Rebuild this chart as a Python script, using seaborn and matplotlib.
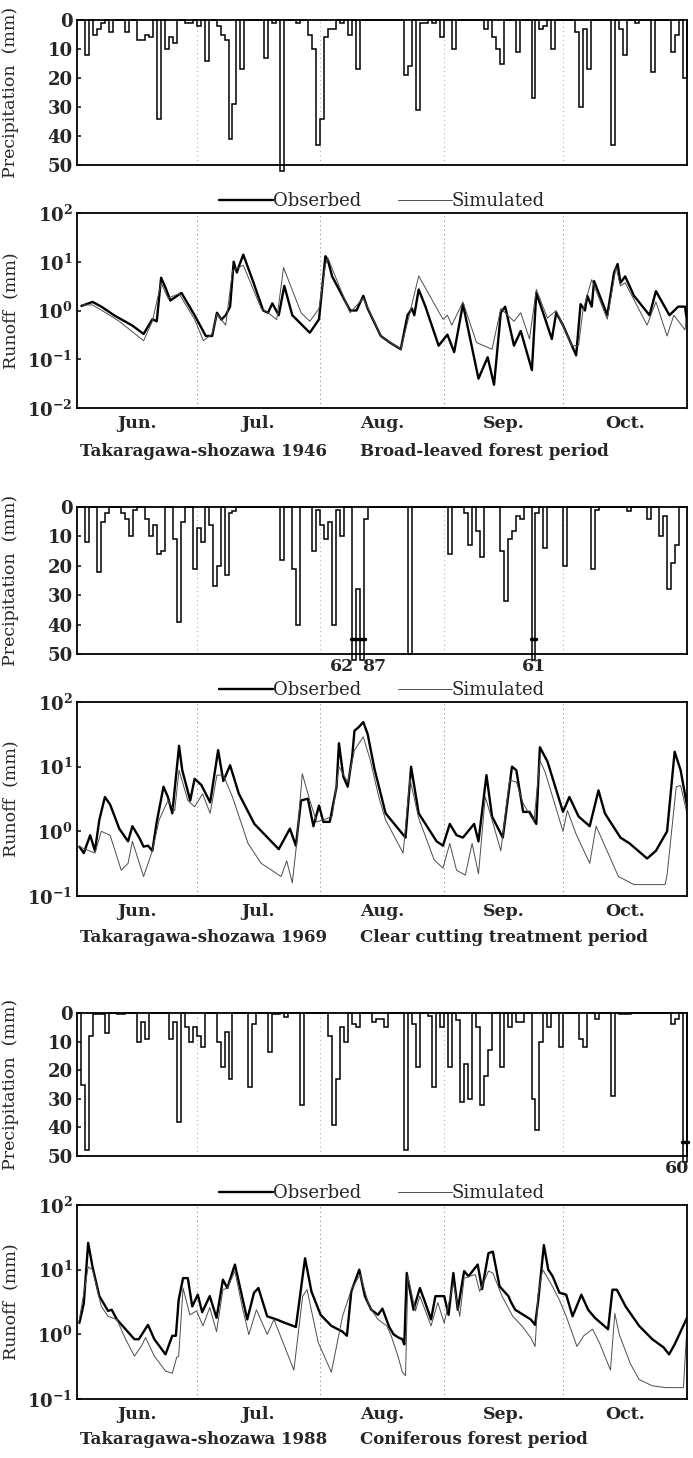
import numpy as np
import pandas as pd
import seaborn as sns
import matplotlib.pyplot as plt

# ---- axis categories ----
MONTHS = ['Jun.', 'Jul.', 'Aug.', 'Sep.', 'Oct.']
MONTH_START = [0, 30, 61, 92, 122, 153]   # day index, 1 Jun = 0
N_DAYS = 153

# ---- 1946 ----
rain46_day = [2, 4, 5, 6, 8, 12, 15, 16, 17, 18, 20, 22, 23, 24, 27, 28, 30, 32, 35, 36, 37, 38, 39, 41,
              47, 49, 51, 55, 58, 59, 60, 61, 62, 63, 64, 66, 68, 70, 82, 83, 85, 86, 87, 89, 91, 94,
              102, 104, 105, 106, 110, 114, 116, 117, 119, 125, 126, 127, 128, 134, 136, 137, 140,
              144, 149, 150, 152]
rain46_mm = [12, 5, 3, 1, 4, 4, 7, 7, 5, 6, 34, 10, 6, 8, 1, 1, 2, 14, 2, 5, 7, 41, 29, 17,
             13, 1, 53, 1, 5, 10, 43, 34, 6, 3, 3, 1, 5, 17, 19, 16, 31, 1, 1, 1, 6, 10,
             3, 6, 10, 15, 11, 27, 3, 2, 10, 4, 30, 3, 17, 43, 3, 12, 1,
             18, 11, 5, 20]
obs46_day = [1.1, 3.9, 6.1, 9.5, 13.9, 16.7, 18.9, 20.0, 21.1, 22.3, 23.4, 26.2, 29.5, 32.3, 33.9,
             35.1, 36.2, 37.3, 38.4, 39.3, 40.1, 40.6, 41.7, 44.0, 46.7, 47.9, 49.0, 50.6, 52.0, 54.0,
             58.4, 60.7, 62.3, 62.9, 64.0, 68.5, 70.1, 71.8, 72.9, 76.2, 78.5, 81.2, 82.9, 84.0, 84.6,
             85.7, 87.4, 90.7, 92.9, 94.6, 96.8, 100.7, 103.0, 104.6, 106.3, 107.4, 109.6, 111.3, 114.1,
             115.2, 116.9, 119.1, 120.2, 121.9, 125.2, 126.3, 127.4, 128.0, 129.1, 129.7, 133.0, 134.7,
             135.6, 136.3, 137.5, 139.7, 143.6, 145.2, 148.6, 150.8, 152.5, 153.0]
obs46_q = [1.24, 1.5, 1.2, 0.78, 0.49, 0.33, 0.66, 0.6, 4.7, 2.8, 1.6, 2.3, 0.8, 0.3, 0.3,
           0.9, 0.65, 0.8, 1.2, 10, 6, 8, 14, 4.3, 1.0, 0.9, 1.4, 0.8, 3.2, 0.8,
           0.35, 0.66, 13, 11, 5, 1.0, 1.0, 2.0, 1.1, 0.3, 0.22, 0.16, 0.8, 1.1, 0.8,
           2.7, 1.2, 0.19, 0.32, 0.14, 1.35, 0.04, 0.11, 0.03, 0.9, 1.2, 0.19, 0.38, 0.06,
           2.3, 0.9, 0.26, 0.9, 0.5, 0.12, 1.35, 1.0, 2.0, 1.2, 4.0, 0.8, 6.0,
           9.0, 3.7, 5.0, 2.0, 0.8, 2.5, 0.8, 1.2, 1.2, 0.6]
sim46_day = [1.1, 3.9, 7.2, 10.6, 16.7, 18.9, 21.1, 22.8, 25.6, 29.5, 31.7, 33.9, 35.1, 37.3, 39.0,
             41.7, 46.2, 47.9, 50.1, 51.8, 56.2, 58.4, 60.7, 62.3, 62.9, 68.5, 71.8, 76.2, 81.2, 83.5,
             85.7, 91.8, 92.9, 94.0, 96.8, 100.2, 104.1, 106.3, 109.6, 111.3, 113.5, 115.2, 118.0,
             120.2, 124.1, 125.8, 126.9, 129.1, 133.0, 135.2, 136.3, 137.5, 143.0, 145.2, 148.0,
             149.7, 152.5, 153.0]
sim46_q = [1.3, 1.3, 0.9, 0.6, 0.24, 0.6, 3.7, 1.8, 2.2, 0.66, 0.24, 0.33, 0.85, 0.5, 6.5,
           8.5, 1.1, 0.9, 0.65, 7.6, 0.9, 0.6, 1.1, 8.5, 12, 0.9, 1.8, 0.3, 0.16, 0.9,
           5.1, 0.66, 0.8, 0.5, 1.5, 0.22, 0.16, 1.1, 0.6, 0.9, 0.26, 2.7, 0.7,
           1.0, 0.19, 0.19, 1.0, 4.3, 0.66, 7.6, 3.2, 3.7, 0.5, 1.5, 0.3,
           0.8, 0.4, 0.95]

# ---- 1969 ----
rain69_day = [2, 5, 6, 7, 11, 12, 13, 14, 17, 18, 19, 20, 21, 24, 25, 26, 29, 30, 31, 33, 34, 35, 37,
              38, 39, 51, 54, 55, 59, 60, 61, 62, 63, 64, 65, 66, 69, 70, 71, 72, 83, 93, 97, 98,
              100, 101, 106, 107, 108, 109, 110, 111, 114, 115, 117, 122, 129, 130, 138, 143,
              146, 147, 148, 149, 150]
rain69_mm = [12, 22, 5, 2, 2, 4, 10, 1, 4, 10, 6, 16, 15, 11, 39, 5, 21, 7, 12, 6, 27, 20, 23,
             2, 1.5, 18, 21, 40, 15, 1, 6, 11, 5, 40, 1, 10, 62, 28, 87, 4, 50, 16, 2, 13,
             8, 17, 15, 32, 11, 8, 3, 4, 61, 2, 14, 20, 21, 1, 1.5, 4,
             10, 3, 28, 19, 13]
obs69_day = [0.6, 1.7, 3.3, 4.5, 5.6, 7.0, 8.3, 10.6, 12.8, 13.9, 15.6, 16.7, 17.8, 18.9, 20.0,
             21.7, 22.8, 23.9, 25.6, 26.4, 28.4, 29.5, 31.2, 33.4, 35.4, 36.7, 38.4, 40.6, 44.5, 50.6,
             53.4, 54.9, 56.2, 57.9, 59.3, 60.7, 61.8, 63.4, 65.1, 65.7, 66.8, 67.9, 69.0, 69.6, 70.7,
             71.8, 72.9, 74.6, 77.4, 82.4, 83.8, 85.7, 90.2, 91.8, 93.5, 95.2, 96.8, 99.6, 100.7, 102.7,
             104.1, 106.8, 109.1, 110.2, 111.9, 113.5, 115.2, 116.1, 118.0, 121.9, 123.5, 125.8, 128.6,
             130.8, 132.4, 136.3, 138.6, 143.0, 145.2, 148.0, 149.9, 151.4, 153.0]
obs69_q = [0.58, 0.46, 0.87, 0.5, 1.5, 3.4, 2.6, 1.1, 0.7, 1.2, 0.8, 0.58, 0.6, 0.5, 1.4,
           4.9, 3.4, 1.9, 21, 8.8, 3.0, 6.5, 5.2, 2.8, 18, 6.0, 10.5, 3.8, 1.3, 0.53,
           1.1, 0.6, 3.0, 3.2, 1.2, 2.5, 1.4, 1.4, 4.9, 23, 7.0, 4.9, 14, 36, 41,
           49, 32, 9.3, 1.9, 0.8, 10, 1.9, 0.7, 0.6, 1.3, 0.87, 0.8, 1.3, 0.7, 7.4,
           1.7, 0.8, 10, 8.8, 2.0, 2.0, 1.3, 20, 12, 2.0, 3.4, 1.7, 1.2,
           4.3, 1.9, 0.8, 0.65, 0.38, 0.5, 1.0, 17, 8.8, 2.5]
sim69_day = [0.6, 4.5, 6.1, 8.3, 11.1, 12.8, 13.9, 16.7, 18.9, 20.6, 22.8, 24.5, 25.6, 27.8, 29.5,
             31.5, 33.4, 35.1, 36.7, 39.0, 42.9, 46.2, 51.2, 52.6, 54.0, 55.1, 56.5, 58.4, 60.1, 61.8,
             64.0, 65.7, 67.9, 69.6, 71.8, 73.5, 75.7, 77.4, 81.8, 83.5, 85.7, 89.6, 91.8, 93.5, 95.2,
             97.4, 99.1, 100.7, 102.4, 104.1, 106.3, 108.5, 110.2, 111.9, 114.6, 116.1, 117.4, 121.9,
             123.0, 125.2, 128.6, 130.2, 131.9, 135.8, 139.7, 147.5, 148.0, 150.3, 151.4, 153.0]
sim69_q = [0.58, 0.46, 1.0, 0.87, 0.25, 0.32, 0.7, 0.2, 0.5, 1.5, 3.0, 2.1, 8.8, 3.0, 2.4,
           3.8, 1.9, 7.4, 7.4, 3.4, 0.65, 0.32, 0.2, 0.35, 0.16, 0.65, 7.8, 3.0, 1.4, 1.5,
           1.7, 10, 5.8, 18, 29, 13, 3.4, 1.5, 0.46, 6.5, 1.6, 0.36, 0.27, 0.65, 0.25,
           0.21, 0.65, 0.22, 3.4, 1.5, 0.5, 6.2, 5.8, 2.7, 1.4, 12.5, 8.3, 1.0,
           2.1, 0.9, 0.32, 1.2, 0.7, 0.2, 0.15, 0.15, 0.21, 4.9, 5.1, 1.9]

# ---- 1988 ----
rain88_day = [1, 2, 3, 4, 5, 6, 7, 10, 11, 15, 16, 17, 23, 24, 25, 27, 28, 29, 30, 31, 35, 36, 37, 38,
              43, 44, 48, 49, 50, 52, 56, 63, 64, 65, 66, 67, 69, 70, 74, 75, 76, 77, 82, 84, 85,
              88, 89, 91, 93, 95, 96, 97, 98, 100, 101, 102, 103, 106, 108, 110, 111, 114, 115,
              116, 118, 121, 126, 127, 130, 134, 136, 137, 138, 149, 150, 152]
rain88_mm = [25, 48, 8, 0.5, 0.5, 0.5, 7, 0.5, 0.5, 10, 3, 9, 9, 3, 38, 5, 10, 5, 8, 12, 10, 19, 6.5, 23,
             26, 4, 13.5, 0.5, 0.5, 1.5, 32, 8, 39, 23, 5, 10, 4, 5, 3, 2, 2, 5, 48, 4, 19,
             1, 26, 5, 19, 2.5, 31, 18, 30, 5, 32, 22, 13, 19, 5, 3, 3, 30, 41,
             10, 5, 12, 9, 12, 2, 29, 0.5, 0.5, 0.5, 4, 2, 60]
obs88_day = [0.6, 1.7, 2.8, 3.9, 5.6, 7.8, 8.7, 10.0, 14.4, 15.5, 17.8, 19.4, 22.2, 23.9, 24.8,
             25.5, 26.6, 27.8, 28.9, 30.3, 31.4, 33.3, 35.0, 36.6, 37.7, 39.6, 41.6, 42.7, 44.4, 45.5,
             47.7, 50.0, 52.2, 54.9, 57.2, 58.8, 61.1, 63.8, 66.6, 67.7, 68.8, 70.8, 72.2, 73.8, 75.5,
             76.6, 78.3, 79.4, 80.5, 81.6, 82.1, 82.7, 84.4, 86.0, 87.1, 88.8, 89.9, 92.1, 93.2, 94.4,
             95.5, 97.1, 98.2, 100.5, 101.6, 103.2, 104.3, 106.0, 108.2, 108.8, 109.9, 113.8, 114.9,
             115.7, 117.1, 118.2, 119.3, 121.0, 122.7, 124.3, 126.5, 128.2, 129.9, 133.2, 134.3,
             135.4, 137.6, 141.0, 144.3, 147.1, 148.5, 149.9, 153.0]
obs88_q = [1.5, 3.0, 26, 11, 3.9, 2.3, 2.4, 1.7, 0.84, 0.84, 1.4, 0.84, 0.49, 0.95, 0.95,
           3.4, 7.4, 7.4, 2.7, 4.1, 2.2, 3.9, 1.8, 7.0, 5.2, 12, 3.4, 1.7, 4.4, 5.2,
           1.9, 1.7, 1.5, 1.3, 15, 4.6, 2.0, 1.35, 1.1, 0.95, 4.6, 10, 3.9, 2.4, 2.0,
           2.5, 1.3, 1.0, 0.9, 0.84, 0.7, 8.9, 2.4, 5.2, 3.4, 1.7, 3.9, 3.9, 2.0, 8.9,
           2.4, 9.5, 7.9, 12, 5.0, 18, 19, 5.5, 3.9, 3.2, 2.4, 1.7, 1.4,
           3.4, 24, 10, 7.9, 4.4, 4.1, 1.9, 4.1, 2.4, 1.8, 1.2, 4.9,
           4.9, 2.7, 1.35, 0.84, 0.63, 0.49, 0.7, 1.8]
sim88_day = [0.6, 2.8, 3.9, 6.1, 7.8, 10.0, 12.2, 14.4, 16.1, 17.2, 19.4, 22.2, 23.9, 25.0, 25.5,
             26.6, 28.3, 30.0, 31.6, 33.3, 35.0, 36.6, 37.7, 39.6, 41.6, 43.1, 45.0, 47.7, 49.4, 54.4,
             56.6, 57.7, 60.5, 63.8, 66.6, 68.8, 71.0, 73.3, 75.5, 77.7, 78.8, 80.5, 81.6, 82.4, 83.0,
             84.9, 86.0, 88.8, 90.5, 92.1, 94.4, 96.0, 97.1, 99.9, 101.0, 103.2, 104.3, 106.6, 109.3,
             111.6, 113.8, 114.9, 115.7, 116.8, 118.8, 121.0, 122.7, 125.4, 127.1, 129.3, 131.0,
             133.8, 134.9, 136.0, 138.8, 141.0, 144.3, 147.6, 152.1, 153.0]
sim88_q = [1.7, 11, 10, 2.7, 1.9, 1.7, 0.84, 0.46, 0.65, 0.89, 0.46, 0.27, 0.25, 0.44, 0.46,
           5.2, 2.0, 2.3, 1.35, 2.6, 1.1, 4.9, 5.2, 9.5, 2.4, 0.99, 2.4, 1.0, 1.7, 0.28,
           3.9, 4.9, 0.75, 0.26, 1.9, 4.9, 8.4, 2.7, 1.7, 1.35, 0.95, 0.46, 0.26, 0.23, 7.9,
           2.3, 3.9, 1.35, 3.1, 1.5, 6.2, 1.9, 7.4, 8.4, 4.6, 9.5, 8.9, 3.9, 1.9,
           1.35, 0.89, 0.65, 4.4, 10, 6.2, 3.4, 1.9, 0.65, 0.95, 1.2, 0.75,
           0.28, 2.1, 1.0, 0.35, 0.2, 0.16, 0.15, 0.15, 1.35]

captions = [('Takaragawa-shozawa 1946', 'Broad-leaved forest period'),
            ('Takaragawa-shozawa 1969', 'Clear cutting treatment period'),
            ('Takaragawa-shozawa 1988', 'Coniferous forest period')]

sns.set_theme(style='ticks')
plt.rcParams['font.family'] = ['DejaVu Serif']
plt.rcParams['mathtext.fontset'] = 'dejavuserif'

W, H = 693, 1458
X0, X1 = 77, 687
fig = plt.figure(figsize=(W / 100, H / 100), dpi=100)


def box(top, bottom):
    return [X0 / W, 1 - bottom / H, (X1 - X0) / W, (bottom - top) / H]


def month_lines(ax, color):
    for d in MONTH_START[1:-1]:
        ax.axvline(d, color=color, lw=0.8, ls=(0, (1, 3)), zorder=0)


def rain_panel(ax, days, mm):
    daily = np.zeros(N_DAYS)
    daily[days] = mm
    ax.stairs(np.minimum(daily, 52), np.arange(N_DAYS + 1), baseline=0,
              color='black', lw=1.1, clip_on=False)
    ax.set_ylim(50, 0)
    ax.set_xlim(0, N_DAYS)
    ax.set_yticks([0, 10, 20, 30, 40, 50])
    ax.set_xticks([])
    ax.set_ylabel('Precipitation  (mm)', fontsize=12.5)
    ax.yaxis.set_label_coords(-0.095, 0.5)
    month_lines(ax, '0.7')
    big = [(d, v) for d, v in zip(days, mm) if v > 55]
    for i, (d, v) in enumerate(big):
        ax.plot([d - 0.2, d + 1.2], [45, 45], color='black', lw=2.5, clip_on=False)
        x, ha = d + 0.5, 'center'
        if i + 1 < len(big) and big[i + 1][0] - d < 4:
            ha = 'right'
        elif i > 0 and d - big[i - 1][0] < 4:
            ha = 'left'
        elif d > N_DAYS - 3:
            x, ha = N_DAYS + 0.6, 'right'
        ax.text(x, 51.5, str(int(v)), ha=ha, va='top', fontsize=12.5, fontweight='bold')


def runoff_panel(ax, od, oq, sd, sq, ymin):
    obs = pd.DataFrame({'day': od, 'q': oq})
    sim = pd.DataFrame({'day': sd, 'q': sq})
    sns.lineplot(data=obs, x='day', y='q', ax=ax, color='black', lw=1.7,
                 estimator=None, sort=False, label='Obserbed')
    sns.lineplot(data=sim, x='day', y='q', ax=ax, color='0.3', lw=0.7,
                 estimator=None, sort=False, label='Simulated')
    ax.set_yscale('log')
    ax.set_ylim(ymin, 100)
    ax.set_xlim(0, N_DAYS)
    ax.minorticks_off()
    centers = [(a + b) / 2 for a, b in zip(MONTH_START[:-1], MONTH_START[1:])]
    ax.set_xticks(centers)
    ax.set_xticklabels(MONTHS, fontsize=12.5, fontweight='bold')
    ax.set_xlabel('')
    ax.set_ylabel('Runoff  (mm)', fontsize=12.5)
    ax.yaxis.set_label_coords(-0.095, 0.5)
    month_lines(ax, '0.55')
    ax.legend(loc='lower center', bbox_to_anchor=(0.5, 1.0), ncol=2, frameon=False,
              fontsize=13, handlelength=3.0, handletextpad=0.0, columnspacing=2.0,
              borderpad=0.0, borderaxespad=0.15)


rain_px = [(20, 165), (507, 654), (1013, 1156)]
run_px = [(213, 408), (702, 896), (1205, 1399)]
cap_px = [452, 938, 1440]
ymins = [0.01, 0.1, 0.1]
rains = [(rain46_day, rain46_mm), (rain69_day, rain69_mm), (rain88_day, rain88_mm)]
runs = [(obs46_day, obs46_q, sim46_day, sim46_q),
        (obs69_day, obs69_q, sim69_day, sim69_q),
        (obs88_day, obs88_q, sim88_day, sim88_q)]

for k in range(3):
    axp = fig.add_axes(box(*rain_px[k]))
    rain_panel(axp, *rains[k])
    axr = fig.add_axes(box(*run_px[k]))
    runoff_panel(axr, *runs[k], ymins[k])
    for ax in (axp, axr):
        for s in ax.spines.values():
            s.set_visible(True)
            s.set_color('black')
            s.set_linewidth(1.3)
        ax.tick_params(axis='y', labelsize=13, direction='in', length=3, pad=3)
        ax.tick_params(axis='x', length=0, pad=5)
        for lab in ax.get_yticklabels():
            lab.set_fontweight('bold')
    fig.text(80 / W, 1 - cap_px[k] / H, captions[k][0], fontsize=12, fontweight='bold',
             va='center', ha='left')
    fig.text(360 / W, 1 - cap_px[k] / H, captions[k][1], fontsize=12, fontweight='bold',
             va='center', ha='left')

fig.savefig('out.png', dpi=100, facecolor='white')
